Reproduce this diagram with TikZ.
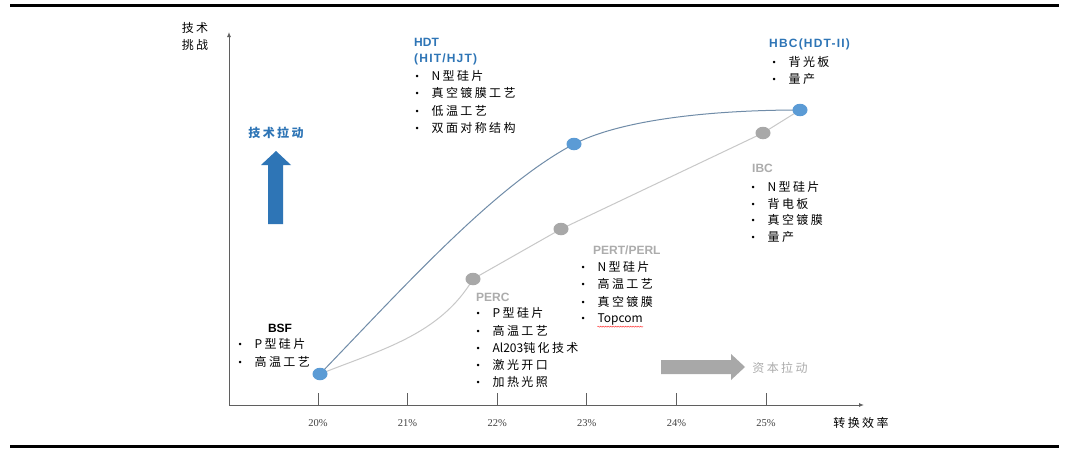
\documentclass[tikz,border=0pt]{standalone}
\usepackage{fontspec}
\usetikzlibrary{arrows.meta,shapes.geometric,decorations.pathmorphing}
\newfontfamily\cjk[LetterSpace=20]{Noto Sans CJK SC}
\newfontfamily\cjkplain{Noto Sans CJK SC}
\newfontfamily\ttl{Liberation Sans}
\newfontfamily\ttlwide[LetterSpace=10]{Liberation Sans}
\newfontfamily\lserif{Liberation Serif}
\definecolor{techblue}{RGB}{46,117,182}
\definecolor{dotblue}{RGB}{91,155,213}
\definecolor{dotgrey}{RGB}{168,168,168}
\definecolor{linegrey}{RGB}{200,200,200}
\definecolor{lineblue}{RGB}{112,140,168}
\definecolor{ttlgrey}{RGB}{172,172,172}
\definecolor{axisgrey}{RGB}{95,95,95}
\newcommand{\bul}{\makebox[16pt][l]{\raisebox{1pt}{\ttl\fontsize{9}{9}\selectfont\textbullet}}}
\begin{document}
\begin{tikzpicture}[x=1pt,y=-1pt,>={Latex[length=5pt,width=4pt]},line join=round]
\tikzset{
  cjktext/.style={inner sep=0pt,font=\cjk\fontsize{12}{17}\selectfont},
  item/.style={cjktext,anchor=west},
  ttlblue/.style={inner sep=0pt,anchor=west,font=\ttl\bfseries\fontsize{12}{14}\selectfont,text=techblue},
  ttlgray/.style={ttlblue,text=ttlgrey},
  axis/.style={draw=axisgrey,line width=0.9pt},
  tick/.style={inner sep=0pt,font=\lserif\fontsize{10.5}{12}\selectfont,text=black!75},
  bluedot/.style={shape=ellipse,inner sep=0pt,minimum width=15pt,minimum height=12.5pt,fill=dotblue},
  greydot/.style={bluedot,fill=dotgrey}
}
\fill[white] (0,0) rectangle (1080,455);
\useasboundingbox (0,0) rectangle (1080,455);
% rules
\draw[line width=3pt] (10,5) -- (1059,5);
\draw[line width=3pt] (10,446.5) -- (1059,446.5);
% axes
\coordinate (o) at (229,405);
\coordinate (ytop) at (229,32);
\coordinate (xend) at (864,405);
\draw[axis,->] (o) -- (ytop);
\draw[axis,->] (o) -- (xend);
\foreach \p [count=\i from 0] in {20,...,25} {
  \draw[axis] (318+89.6*\i,405) -- ++(0,-12);
  \node[tick] (t\p) at (318+89.6*\i,423) {\p\%};
}
\node[cjktext,align=center] (ylab) at (195,36.5) {技术\\挑战};
\node[cjktext] (xlab) at (861,423) {转换效率};
% technology points
\coordinate (bsf) at (320,374);
\coordinate (perc) at (473,279);
\coordinate (pert) at (561,229);
\coordinate (ibc) at (763,133);
\coordinate (hdt) at (574,144);
\coordinate (hbc) at (800,110);
\draw[linegrey,line width=1pt] (bsf) .. controls (380,350) and (440,335) .. (perc) -- (pert) -- (ibc) -- (hbc);
\draw[lineblue,line width=1pt] (bsf) .. controls (403,288) and (494.5,186) .. (hdt) .. controls (625,118) and (720,110) .. (hbc);
\node[bluedot] (bsfdot) at (bsf) {};
\node[greydot] (percdot) at (perc) {};
\node[greydot] (pertdot) at (pert) {};
\node[greydot] (ibcdot) at (ibc) {};
\node[bluedot] (hdtdot) at (hdt) {};
\node[bluedot] (hbcdot) at (hbc) {};
% pull arrows
\node[cjktext,font=\cjk\bfseries\fontsize{12}{14}\selectfont,text=techblue] (techpull) at (276,133) {技术拉动};
\fill[techblue] (268,224) -- (268,165) -- (261,165) -- (276,151) -- (291,165) -- (283,165) -- (283,224) -- cycle;
\fill[dotgrey] (661,360) -- (731,360) -- (731,354) -- (745,367) -- (731,380) -- (731,374) -- (661,374) -- cycle;
\node[cjktext,text=ttlgrey] (cappull) at (780,368) {资本拉动};
% BSF
\node[inner sep=0pt,font=\ttl\bfseries\fontsize{12}{14}\selectfont] (bsfT) at (280,328) {BSF};
\foreach \t [count=\i] in {P型硅片,高温工艺}
  \node[item] (bsf\i) at (238.4,326+18*\i) {\bul\t};
% PERC
\node[ttlgray] (percT) at (476,297) {PERC};
\foreach \t [count=\i] in {P型硅片,高温工艺,{\cjkplain Al203}钝化技术,激光开口,加热光照}
  \node[item] (perc\i) at (476.4,296+17.25*\i) {\bul\t};
% PERT/PERL
\node[ttlgray] (pertT) at (593,250) {PERT/PERL};
\foreach \t [count=\i] in {N型硅片,高温工艺,真空镀膜,{\cjkplain Topcom}}
  \node[item] (pert\i) at (581.4,249.2+17.5*\i) {\bul\t};
\draw[red!80,line width=0.5pt,decorate,decoration={snake,amplitude=0.6pt,segment length=2.5pt}]
  ([xshift=16pt,yshift=-1.5pt]pert4.south west) -- ([yshift=-1.5pt]pert4.south east);
% IBC
\node[ttlgray] (ibcT) at (752,168) {IBC};
\foreach \t [count=\i] in {N型硅片,背电板,真空镀膜,量产}
  \node[item] (ibc\i) at (751.4,170+16.8*\i) {\bul\t};
% HDT
\node[ttlblue] (hdtT) at (414,42) {HDT};
\node[ttlblue,font=\ttlwide\bfseries\fontsize{12}{14}\selectfont] (hdtT2) at (414,59) {(HIT/HJT)};
\foreach \t [count=\i] in {N型硅片,真空镀膜工艺,低温工艺,双面对称结构}
  \node[item] (hdt\i) at (415.4,58.7+17.3*\i) {\bul\t};
% HBC
\node[ttlblue,font=\ttlwide\bfseries\fontsize{12}{14}\selectfont] (hbcT) at (769,44) {HBC(HDT-II)};
\foreach \t [count=\i] in {背光板,量产}
  \node[item] (hbc\i) at (772.4,44.5+17.3*\i) {\bul\t};
\end{tikzpicture}
\end{document}
